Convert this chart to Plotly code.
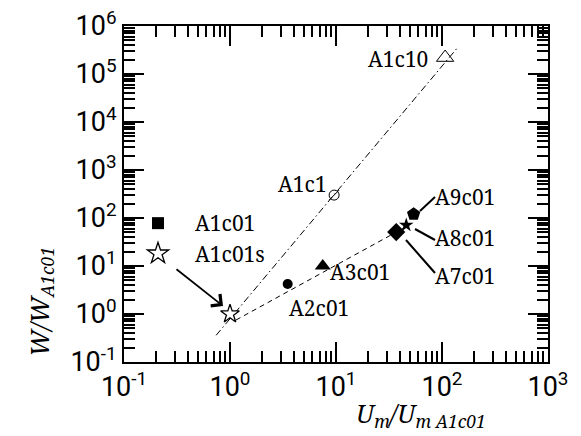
import plotly.graph_objects as go

# ---- data ----
names = ["A1c01s", "A2c01", "A3c01", "A7c01", "A8c01", "A9c01", "A1c1", "A1c10"]
u_ratio = [1.0, 3.5, 7.5, 37.0, 46.0, 54.0, 9.6, 107.0]
w_ratio = [1.0, 4.2, 10.0, 51.0, 71.0, 120.0, 300.0, 2.2e5]

dashdot_x = [0.74, 141.0]
dashdot_y = [0.36, 3.6e5]
dashed_x = [1.14, 50.0]
dashed_y = [0.75, 73.0]

x_tickvals = [0.1, 1, 10, 100, 1000]
x_ticktext = ["10<sup>-1</sup>", "10<sup>0</sup>", "10<sup>1</sup>", "10<sup>2</sup>", "10<sup>3</sup>"]
y_tickvals = [0.1, 1, 10, 100, 1e3, 1e4, 1e5, 1e6]
y_ticktext = ["10<sup>-1</sup>", "10<sup>0</sup>", "10<sup>1</sup>", "10<sup>2</sup>",
              "10<sup>3</sup>", "10<sup>4</sup>", "10<sup>5</sup>", "10<sup>6</sup>"]

# ---- layout geometry ----
W, H = 581, 436
L, R, T, B = 116, 41, 18, 82
PW, PH = W - L - R, H - T - B


def px(x):
    return (x - L) / PW


def py(y):
    return 1 - (y - T) / PH


SERIF = "Noto Serif, DejaVu Serif, serif"
SANS = "Roboto, Arial, sans-serif"

styles = {
    "A1c01s": dict(symbol="star", size=14, color="white", line=dict(color="black", width=1.3)),
    "A2c01": dict(symbol="circle", size=10, color="black"),
    "A3c01": dict(symbol="triangle-up", size=14, color="black"),
    "A7c01": dict(symbol="diamond", size=14, color="black"),
    "A8c01": dict(symbol="star", size=11, color="black"),
    "A9c01": dict(symbol="pentagon", size=14, color="black"),
    "A1c1": dict(symbol="circle-open", size=10, color="black", line=dict(color="black", width=1)),
    "A1c10": dict(symbol="triangle-up-open", size=15, color="black",
                  line=dict(color="black", width=1)),
}

fig = go.Figure()

fig.add_trace(go.Scatter(x=dashdot_x, y=dashdot_y, mode="lines",
                         line=dict(color="black", width=1, dash="7px,3px,1.5px,3px"),
                         showlegend=False, hoverinfo="skip"))
fig.add_trace(go.Scatter(x=dashed_x, y=dashed_y, mode="lines",
                         line=dict(color="black", width=1, dash="5px,4px"),
                         showlegend=False, hoverinfo="skip"))

# legend-only keys
fig.add_trace(go.Scatter(x=[None], y=[None], mode="markers", name="A1c01",
                         marker=dict(symbol="square", size=12, color="black"),
                         showlegend=True))
fig.add_trace(go.Scatter(x=[None], y=[None], mode="markers", name="A1c01s",
                         marker=dict(symbol="star", size=17, color="white",
                                     line=dict(color="black", width=1.3)),
                         showlegend=True))

for n, u, w in zip(names, u_ratio, w_ratio):
    fig.add_trace(go.Scatter(x=[u], y=[w], mode="markers", name=n,
                             marker=styles[n], showlegend=False))
    if n == "A1c1":
        fig.add_trace(go.Scatter(x=[u], y=[w], mode="markers", showlegend=False,
                                 marker=dict(symbol="line-ne-open", size=10, color="black",
                                             line=dict(color="black", width=1))))

# ---- text labels ----
labels = [
    ("A2c01", 279, 300),
    ("A3c01", 320, 264),
    ("A7c01", 425, 268),
    ("A8c01", 425, 230),
    ("A9c01", 425, 189),
    ("A1c1", 268, 176),
    ("A1c10", 358, 51),
]
annotations = []
for txt, x, y in labels:
    annotations.append(dict(text=txt, x=px(x), y=py(y), xref="paper", yref="paper",
                            xanchor="left", yanchor="middle", showarrow=False,
                            font=dict(family=SERIF, size=21, color="black")))

# arrow to A1c01s
annotations.append(dict(x=px(215), y=py(298), xref="paper", yref="paper",
                        ax=-48, ay=-38, showarrow=True, arrowhead=4,
                        arrowsize=1.6, arrowwidth=1.8, arrowcolor="black", text=""))

# axis titles
annotations.append(dict(text="<i>U<sub>m</sub>/U<sub>m A1c01</sub></i>",
                        x=px(346), y=py(386), xref="paper", yref="paper",
                        xanchor="left", yanchor="top", showarrow=False,
                        font=dict(family=SERIF, size=25, color="black")))
annotations.append(dict(text="<i>W/W<sub>A1c01</sub></i>", textangle=-90,
                        x=px(11), y=py(294), xref="paper", yref="paper",
                        xanchor="left", yanchor="middle", showarrow=False,
                        font=dict(family=SERIF, size=25, color="black")))

shapes = []
for (x0, y0, x1, y1) in [(412, 203, 427, 189), (407, 221, 427, 232), (398, 232, 427, 265)]:
    shapes.append(dict(type="line", xref="paper", yref="paper",
                       x0=px(x0), y0=py(y0), x1=px(x1), y1=py(y1),
                       line=dict(color="black", width=2)))

axis_common = dict(
    type="log", showgrid=False, zeroline=False, automargin=False,
    showline=True, linecolor="black", linewidth=2, mirror="allticks",
    ticks="inside", ticklen=20, tickwidth=2, tickcolor="black",
    ticklabeloverflow="allow",
    tickfont=dict(family=SANS, size=27, color="black"),
    minor=dict(ticks="inside", ticklen=11, tickwidth=1.5, tickcolor="black",
               dtick="D1", showgrid=False),
)

fig.update_layout(
    width=W, height=H,
    margin=dict(l=L, r=R, t=T, b=B, autoexpand=False),
    paper_bgcolor="white", plot_bgcolor="white",
    xaxis=dict(range=[-1, 3], tickmode="array", tickvals=x_tickvals, ticktext=x_ticktext,
               **axis_common),
    yaxis=dict(range=[-1, 6], tickmode="array", tickvals=y_tickvals, ticktext=y_ticktext,
               ticklabelstandoff=0, **axis_common),
    legend=dict(xref="container", yref="container", x=113 / W, y=1 - 195 / H,
                xanchor="left", yanchor="top",
                bgcolor="rgba(0,0,0,0)", borderwidth=0, itemwidth=64,
                tracegroupgap=0,
                font=dict(family=SERIF, size=21, color="black")),
    annotations=annotations,
    shapes=shapes,
)

fig.write_html("out.html")
